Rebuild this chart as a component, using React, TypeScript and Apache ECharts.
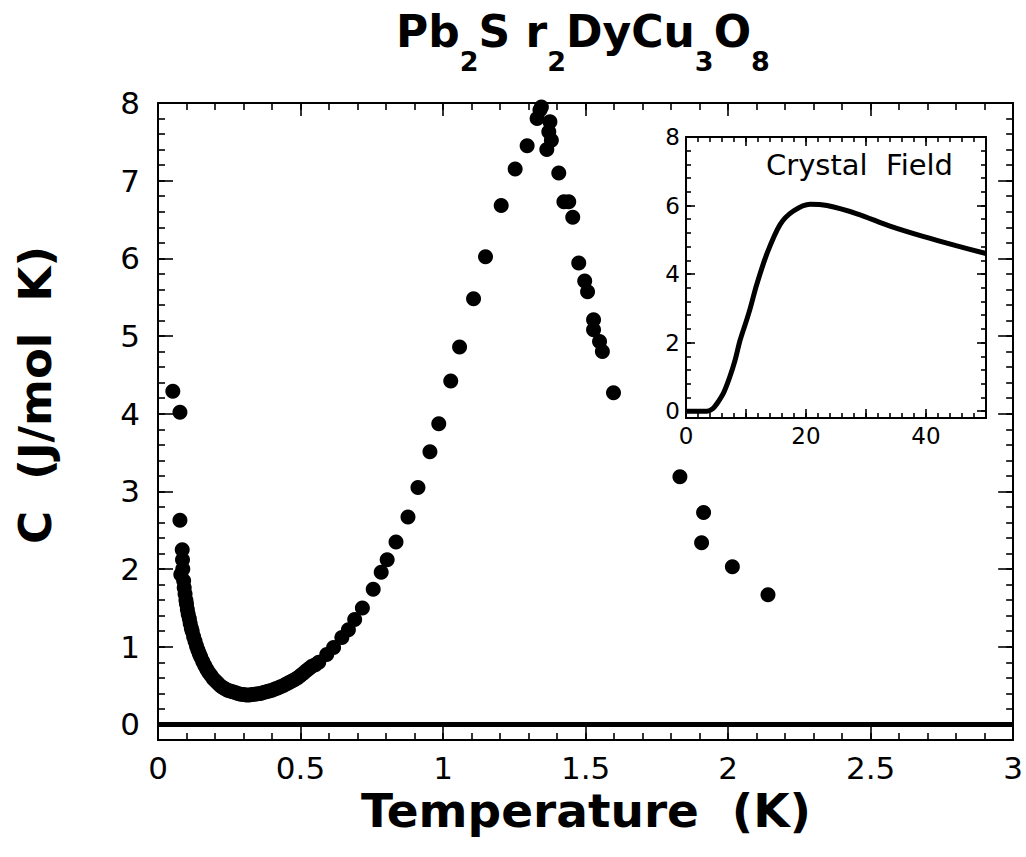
import React, { useEffect, useRef } from "react";
import * as echarts from "echarts";

// ---- Main data: specific heat C (J/mol K) vs Temperature (K) ----
const tempK: number[] = [
  0.052, 0.077, 0.077, 0.085, 0.086, 0.087, 0.080, 0.090, 0.092, 0.095, 0.098, 0.100,
  0.103, 0.106, 0.110, 0.113, 0.117, 0.120, 0.125, 0.130, 0.135, 0.140, 0.145, 0.150,
  0.157, 0.164, 0.171, 0.178, 0.186, 0.194, 0.202, 0.210, 0.218, 0.226, 0.235, 0.244,
  0.253, 0.262, 0.271, 0.280, 0.290, 0.300, 0.310, 0.320, 0.330, 0.340, 0.350, 0.360,
  0.370, 0.380, 0.390, 0.400, 0.410, 0.420, 0.430, 0.440, 0.450, 0.460, 0.470, 0.480,
  0.490, 0.500, 0.510, 0.520, 0.530, 0.540, 0.552, 0.564, 0.592, 0.616, 0.645, 0.668,
  0.690, 0.717, 0.755, 0.783, 0.804, 0.835, 0.877, 0.912, 0.954, 0.985, 1.027, 1.058,
  1.107, 1.149, 1.204, 1.253, 1.295, 1.330, 1.340, 1.345, 1.375, 1.371, 1.380, 1.364,
  1.406, 1.424, 1.441, 1.455, 1.476, 1.497, 1.507, 1.528, 1.528, 1.549, 1.559, 1.598,
  1.831, 1.914, 1.907, 2.015, 2.140,
];
const heatC: number[] = [
  4.29, 4.02, 2.63, 2.25, 2.12, 2.00, 1.93, 1.85, 1.76, 1.68, 1.60, 1.55,
  1.48, 1.42, 1.36, 1.30, 1.24, 1.20, 1.13, 1.07, 1.01, 0.96, 0.91, 0.87,
  0.81, 0.76, 0.71, 0.67, 0.63, 0.59, 0.56, 0.53, 0.50, 0.48, 0.46, 0.44,
  0.43, 0.42, 0.41, 0.40, 0.39, 0.385, 0.38, 0.38, 0.385, 0.39, 0.395, 0.40,
  0.41, 0.42, 0.43, 0.44, 0.455, 0.47, 0.485, 0.50, 0.52, 0.54, 0.56, 0.58,
  0.60, 0.63, 0.66, 0.69, 0.72, 0.75, 0.77, 0.80, 0.90, 0.99, 1.12, 1.22,
  1.35, 1.50, 1.74, 1.96, 2.12, 2.35, 2.67, 3.05, 3.51, 3.87, 4.42, 4.86,
  5.48, 6.02, 6.68, 7.15, 7.45, 7.80, 7.91, 7.95, 7.76, 7.63, 7.52, 7.40,
  7.10, 6.73, 6.73, 6.53, 5.94, 5.71, 5.57, 5.21, 5.08, 4.93, 4.80, 4.27,
  3.19, 2.73, 2.34, 2.03, 1.67,
];

// ---- Inset data: Crystal Field calculation ----
const cfTemp: number[] = [0, 2, 3.5, 4.5, 5.2, 6.3, 7.3, 8.2, 9, 10, 10.7, 11.8, 13.5, 15.7, 17.9, 20.7, 23.5, 28.5, 34, 39.5, 45, 50];
const cfHeat: number[] = [0, 0, 0, 0.08, 0.23, 0.55, 1.0, 1.5, 2.06, 2.6, 3.0, 3.7, 4.6, 5.45, 5.84, 6.04, 6.0, 5.76, 5.4, 5.1, 4.83, 4.6];

// ---- Tick values ----
const mainXMajor: number[] = [0, 0.5, 1, 1.5, 2, 2.5, 3];
const mainXLabels: string[] = ["0", "0.5", "1", "1.5", "2", "2.5", "3"];
const mainYMajor: number[] = [0, 1, 2, 3, 4, 5, 6, 7, 8];
const insetXMajor: number[] = [0, 10, 20, 30, 40, 50];
const insetXLabeled: number[] = [0, 20, 40];
const insetYMajor: number[] = [0, 2, 4, 6, 8];

const range = (a: number, b: number, step: number) => {
  const out: number[] = [];
  const n = Math.round((b - a) / step);
  for (let i = 0; i <= n; i++) out.push(Math.round((a + i * step) * 1000) / 1000);
  return out;
};

const FONT = "DejaVu Sans";

function tickAxis(opts: any) {
  const { gridIndex, position, min, max, values, length, labels, labelFmt, fontSize, margin, showLine } = opts;
  return {
    type: "value",
    gridIndex,
    position,
    min,
    max,
    axisLine: { show: !!showLine, onZero: false, lineStyle: { color: "#000", width: 2 } },
    axisTick: { show: true, inside: true, length, customValues: values, lineStyle: { color: "#000", width: 1.6 } },
    axisLabel: labels
      ? {
          show: true,
          customValues: labels,
          formatter: labelFmt,
          fontFamily: FONT,
          fontSize,
          color: "#000",
          margin,
        }
      : { show: false },
    splitLine: { show: false },
  };
}

export default function App() {
  const ref = useRef<HTMLDivElement>(null);
  useEffect(() => {
    if (!ref.current) return;
    const chart = echarts.init(ref.current, null, { renderer: "svg" });
    const mainPts = tempK.map((t, i) => [t, heatC[i]]);
    const insetPts = cfTemp.map((t, i) => [t, cfHeat[i]]);
    const mxMinor = range(0, 3, 0.1);
    const myMinor = range(-0.2, 8, 0.2);
    const ixMinor = range(0, 50, 2);
    const iyMinor = range(0, 8, 0.4);

    const xFmt = (v: number) => {
      const idx = mainXMajor.findIndex((m) => Math.abs(m - v) < 1e-6);
      return idx >= 0 ? mainXLabels[idx] : "";
    };

    const option: any = {
      animation: false,
      backgroundColor: "#fff",
      grid: [
        { left: 158, top: 103, width: 862, height: 637, show: false },
        { left: 686, top: 137, width: 300, height: 281, show: true, backgroundColor: "#fff", borderWidth: 0 },
      ],
      title: {
        left: 396,
        top: -12,
        padding: 0,
        text: "{a|Pb}{b|2}{a|S r}{b|2}{a|DyCu}{b|3}{a|O}{b|8}",
        textStyle: {
          rich: {
            a: { fontFamily: FONT, fontWeight: "bold", fontSize: 44, color: "#000" },
            b: { fontFamily: FONT, fontWeight: "bold", fontSize: 27, color: "#000", padding: [60, 0, 0, 0] },
          },
        },
      },
      xAxis: [
        tickAxis({ gridIndex: 0, position: "bottom", min: 0, max: 3, values: mxMinor, length: 7, labels: mainXMajor, labelFmt: xFmt, fontSize: 31, margin: 12, showLine: true }),
        tickAxis({ gridIndex: 0, position: "bottom", min: 0, max: 3, values: mainXMajor, length: 13 }),
        tickAxis({ gridIndex: 0, position: "top", min: 0, max: 3, values: mxMinor, length: 7, showLine: true }),
        tickAxis({ gridIndex: 0, position: "top", min: 0, max: 3, values: mainXMajor, length: 13 }),
        tickAxis({ gridIndex: 1, position: "bottom", min: 0, max: 50, values: ixMinor, length: 5, labels: insetXLabeled, labelFmt: (v: number) => String(Math.round(v)), fontSize: 23, margin: 6, showLine: true }),
        tickAxis({ gridIndex: 1, position: "bottom", min: 0, max: 50, values: insetXMajor, length: 9 }),
        tickAxis({ gridIndex: 1, position: "top", min: 0, max: 50, values: ixMinor, length: 5, showLine: true }),
        tickAxis({ gridIndex: 1, position: "top", min: 0, max: 50, values: insetXMajor, length: 9 }),
      ],
      yAxis: [
        tickAxis({ gridIndex: 0, position: "left", min: -0.2, max: 8, values: myMinor, length: 7, labels: mainYMajor, labelFmt: (v: number) => String(Math.round(v)), fontSize: 31, margin: 18, showLine: true }),
        tickAxis({ gridIndex: 0, position: "left", min: -0.2, max: 8, values: mainYMajor, length: 15 }),
        tickAxis({ gridIndex: 0, position: "right", min: -0.2, max: 8, values: myMinor, length: 7, showLine: true }),
        tickAxis({ gridIndex: 0, position: "right", min: -0.2, max: 8, values: mainYMajor, length: 15 }),
        tickAxis({ gridIndex: 1, position: "left", min: -0.2, max: 8, values: iyMinor, length: 5, labels: insetYMajor, labelFmt: (v: number) => String(Math.round(v)), fontSize: 23, margin: 6, showLine: true }),
        tickAxis({ gridIndex: 1, position: "left", min: -0.2, max: 8, values: insetYMajor, length: 9 }),
        tickAxis({ gridIndex: 1, position: "right", min: -0.2, max: 8, values: iyMinor, length: 5, showLine: true }),
        tickAxis({ gridIndex: 1, position: "right", min: -0.2, max: 8, values: insetYMajor, length: 9 }),
      ],
      series: [
        {
          type: "line",
          xAxisIndex: 0,
          yAxisIndex: 0,
          data: [[0, 0], [3, 0]],
          symbol: "none",
          lineStyle: { color: "#000", width: 5 },
          silent: true,
          z: 2,
        },
        {
          type: "scatter",
          xAxisIndex: 0,
          yAxisIndex: 0,
          data: mainPts,
          symbol: "circle",
          symbolSize: 15,
          itemStyle: { color: "#000", opacity: 1 },
          z: 3,
        },
        {
          type: "line",
          xAxisIndex: 4,
          yAxisIndex: 4,
          data: insetPts,
          smooth: 0.3,
          symbol: "none",
          lineStyle: { color: "#000", width: 5 },
          z: 5,
        },
      ],
      graphic: [
        {
          type: "text",
          left: 766,
          top: 150,
          style: { text: "Crystal  Field", fontFamily: FONT, fontSize: 29, fill: "#000" },
          z: 10,
        },
        {
          type: "text",
          x: 586,
          y: 810,
          style: { text: "Temperature  (K)", fontFamily: FONT, fontWeight: "bold", fontSize: 47, fill: "#000", align: "center", verticalAlign: "middle" },
        },
        {
          type: "text",
          x: 35,
          y: 395,
          rotation: Math.PI / 2,
          style: { text: "C  (J/mol  K)", fontFamily: FONT, fontWeight: "bold", fontSize: 45, fill: "#000", align: "center", verticalAlign: "middle" },
        },
      ],
    };
    chart.setOption(option);
    return () => chart.dispose();
  }, []);
  return <div ref={ref} style={{ position: "fixed", left: 0, top: 0, width: 1026, height: 857 }} />;
}
